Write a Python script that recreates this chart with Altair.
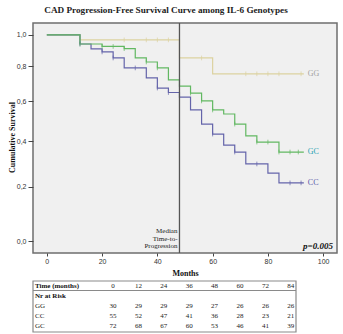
import altair as alt
import pandas as pd

# ---------------- data ----------------
groups = ["GG", "CC", "GC"]

gg_t = [0, 12, 48, 60, 93]
gg_s = [1.0, 0.967, 0.851, 0.755, 0.755]
gg_cens = [28, 36, 40, 44, 56, 72, 76, 80, 84, 92]

cc_t = [0, 12, 16, 20, 24, 28, 36, 40, 44, 48, 52, 56, 60, 64, 68, 72, 80, 84, 93]
cc_s = [1.0, 0.94, 0.908, 0.889, 0.851, 0.79, 0.731, 0.673, 0.648, 0.623, 0.554,
        0.482, 0.433, 0.381, 0.349, 0.296, 0.257, 0.216, 0.216]
cc_cens = [12, 20, 24, 32, 40, 44, 60, 68, 76, 88, 92]

gc_t = [0, 12, 20, 28, 32, 36, 40, 44, 48, 52, 56, 60, 64, 68, 72, 76, 84, 93]
gc_s = [1.0, 0.94, 0.924, 0.91, 0.852, 0.826, 0.79, 0.719, 0.684, 0.645, 0.602,
        0.554, 0.533, 0.482, 0.424, 0.395, 0.349, 0.349]
gc_cens = [12, 20, 24, 28, 36, 40, 48, 52, 56, 60, 68, 76, 80, 84, 88, 91]

median_time = 48
median_lines = ["Median", "Time-to-", "Progression"]
p_text = "p=0.005"

table_times = [0, 12, 24, 36, 48, 60, 72, 84]
risk_gg = [30, 29, 29, 29, 27, 26, 26, 26]
risk_cc = [55, 52, 47, 41, 36, 28, 23, 21]
risk_gc = [72, 68, 67, 60, 53, 46, 41, 39]

# ---------------- tables ----------------
series = {"GG": (gg_t, gg_s, gg_cens), "CC": (cc_t, cc_s, cc_cens), "GC": (gc_t, gc_s, gc_cens)}


def step_val(ts, ss, t):
    v = ss[0]
    for ti, si in zip(ts, ss):
        if ti <= t:
            v = si
    return v


curve_rows, cens_rows, end_rows = [], [], []
for g, (ts, ss, cs) in series.items():
    for t, s in zip(ts, ss):
        curve_rows.append({"g": g, "t": t, "s": s})
    for c in cs:
        cens_rows.append({"g": g, "t": c, "s": step_val(ts, ss, c)})
    end_rows.append({"g": g, "t": ts[-1], "s": ss[-1]})
curves = pd.DataFrame(curve_rows)
cens = pd.DataFrame(cens_rows)
ends = pd.DataFrame(end_rows)

SERIF = "Liberation Serif"
SANS = "Liberation Sans"
W, H = 304, 230

line_colors = ["#dcd2a0", "#6464aa", "#62b862"]
label_colors = {"GG": "#a3a3a3", "CC": "#5a5aaa", "GC": "#2aa3b3"}

xs = alt.Scale(domain=[-5, 105], nice=False, zero=False)
ys = alt.Scale(type="symlog", constant=1, domain=[-0.041, 1.082], nice=False, zero=False)
cs = alt.Scale(domain=groups, range=line_colors)

x_axis = alt.Axis(values=[0, 20, 40, 60, 80, 100], title="Months", grid=False,
                  domain=False, tickSize=3, labelPadding=1, labelFont=SANS,
                  labelFontSize=7, labelColor="#333", tickColor="#444",
                  titleFont=SERIF, titleFontSize=8, titleFontWeight="bold",
                  titleX=W / 2, titleY=20, titleBaseline="middle", titleColor="#111")
y_axis = alt.Axis(values=[0, 0.2, 0.4, 0.6, 0.8, 1.0], title="Cumulative Survival",
                  grid=False, domain=False, tickSize=5, labelPadding=2,
                  labelExpr="replace(format(datum.value, '.1f'), '.', ',')",
                  labelFont=SANS, labelFontSize=7, labelColor="#333", tickColor="#444",
                  titleFont=SERIF, titleFontSize=8, titleFontWeight="bold",
                  titleAngle=270, titleX=-21, titleY=H / 2 - 1, titleAlign="center",
                  titleBaseline="middle", titleColor="#111")

lines = alt.Chart(curves).mark_line(interpolate="step-after", strokeWidth=1.2).encode(
    x=alt.X("t:Q", scale=xs, axis=x_axis),
    y=alt.Y("s:Q", scale=ys, axis=y_axis),
    color=alt.Color("g:N", scale=cs, legend=None),
)

marks = alt.Chart(cens).mark_point(shape="M0,-1L0,1", size=22, filled=False, strokeWidth=1).encode(
    x=alt.X("t:Q"), y=alt.Y("s:Q"), color=alt.Color("g:N", scale=cs, legend=None)
)

one = pd.DataFrame({"k": [0]})

median_rule = alt.Chart(one).mark_rule(color="#555555", strokeWidth=1.3).encode(
    x=alt.datum(median_time), y=alt.value(0), y2=alt.value(H)
)

median_txts = []
for i, line in enumerate(median_lines):
    median_txts.append(
        alt.Chart(one).mark_text(
            align="right", baseline="middle", font=SERIF, fontSize=7, color="#222", dx=-2,
        ).encode(x=alt.datum(median_time), y=alt.value(208 + i * 7.5), text=alt.value(line))
    )

p_lab = alt.Chart(one).mark_text(
    align="right", baseline="middle", font=SERIF, fontSize=9, fontWeight="bold",
    fontStyle="italic", color="#111",
).encode(x=alt.value(W - 4), y=alt.value(223), text=alt.value(p_text))

title = alt.Chart(one).mark_text(
    align="center", baseline="middle", font=SERIF, fontSize=9.2, fontWeight="bold", color="#222",
).encode(x=alt.value(133), y=alt.value(-13),
         text=alt.value("CAD Progression-Free Survival Curve among IL-6 Genotypes"))

group_labels = []
for g in groups:
    group_labels.append(
        alt.Chart(ends[ends.g == g]).mark_text(
            align="left", baseline="middle", font=SERIF, fontSize=8, dx=4,
            color=label_colors[g],
        ).encode(x=alt.X("t:Q"), y=alt.Y("s:Q"), text="g:N")
    )

# ---------------- risk table ----------------
tab_x0, tab_dx = 80, 25.4
row_y = {"head": 262.5, "GG": 283, "CC": 292.5, "GC": 303}
trows = []
for i, t in enumerate(table_times):
    trows.append({"px": tab_x0 + i * tab_dx, "py": row_y["head"], "txt": str(t)})
for g, vals in (("GG", risk_gg), ("CC", risk_cc), ("GC", risk_gc)):
    for i, v in enumerate(vals):
        trows.append({"px": tab_x0 + i * tab_dx, "py": row_y[g], "txt": str(v)})
tab_df = pd.DataFrame(trows)

tab_nums = alt.Chart(tab_df).mark_text(
    align="center", baseline="middle", font=SERIF, fontSize=7, color="#222"
).encode(x=alt.X("px:Q", scale=None), y=alt.Y("py:Q", scale=None), text="txt:N")

lrows = [
    {"py": row_y["head"], "txt": "Time (months)", "b": "bold"},
    {"py": 273, "txt": "Nr at Risk", "b": "bold"},
    {"py": row_y["GG"], "txt": "GG", "b": "normal"},
    {"py": row_y["CC"], "txt": "CC", "b": "normal"},
    {"py": row_y["GC"], "txt": "GC", "b": "normal"},
]
lab_df = pd.DataFrame(lrows)
tab_bold = alt.Chart(lab_df[lab_df.b == "bold"]).mark_text(
    align="left", baseline="middle", font=SERIF, fontSize=7, fontWeight="bold", color="#111"
).encode(x=alt.value(2), y=alt.Y("py:Q", scale=None), text="txt:N")
tab_norm = alt.Chart(lab_df[lab_df.b == "normal"]).mark_text(
    align="left", baseline="middle", font=SERIF, fontSize=7, color="#222"
).encode(x=alt.value(2), y=alt.Y("py:Q", scale=None), text="txt:N")

tab_box = alt.Chart(one).mark_rect(fill="white", fillOpacity=0, stroke="#8a8a8a", strokeWidth=1.2).encode(
    x=alt.value(0), x2=alt.value(263), y=alt.value(258), y2=alt.value(309)
)
tab_sep = alt.Chart(one).mark_rule(color="#8a8a8a", strokeWidth=1).encode(
    x=alt.value(0), x2=alt.value(263), y=alt.value(267.5)
)

chart = alt.layer(
    lines, marks, median_rule, *median_txts, p_lab, title, *group_labels,
    tab_box, tab_sep, tab_nums, tab_bold, tab_norm,
).properties(
    width=W, height=H,
    padding={"left": 33, "top": 23, "right": 6, "bottom": 81},
    autosize=alt.AutoSizeParams(type="none"),
    background="white",
).configure_view(
    fill="#f0f0f0", stroke="#6e6e6e", strokeWidth=1.5
)

chart.save("out.html", embed_options={"renderer": "svg", "actions": False})
